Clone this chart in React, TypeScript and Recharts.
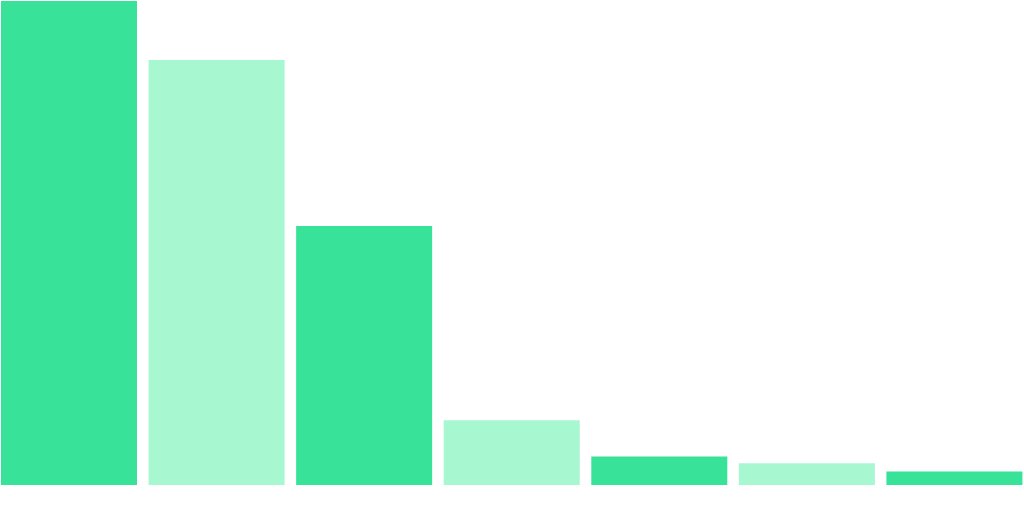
import React from "react";
import { BarChart, Bar, XAxis, YAxis, Cell } from "recharts";

const categories = ["A", "B", "C", "D", "E", "F", "G"];
const values = [100, 87.8, 53.5, 13.4, 5.9, 4.5, 2.8];

const PALETTE = ["#38E298", "#A7F7D0"];

const data = categories.map((name, i) => ({ name, value: values[i] }));

export default function App() {
  return (
    <div
      style={{
        position: "absolute",
        left: 0,
        top: 0,
        width: 1024,
        height: 527,
        overflow: "hidden",
        background: "#fff",
      }}
    >
      <BarChart
        width={1024}
        height={527}
        data={data}
        margin={{ top: 1, right: -4, bottom: 42, left: -5 }}
        barSize={136}
      >
        <XAxis dataKey="name" hide />
        <YAxis hide domain={[0, 100]} />
        <Bar dataKey="value" isAnimationActive={false}>
          {data.map((d, i) => (
            <Cell key={d.name} fill={PALETTE[i % 2]} />
          ))}
        </Bar>
      </BarChart>
    </div>
  );
}
